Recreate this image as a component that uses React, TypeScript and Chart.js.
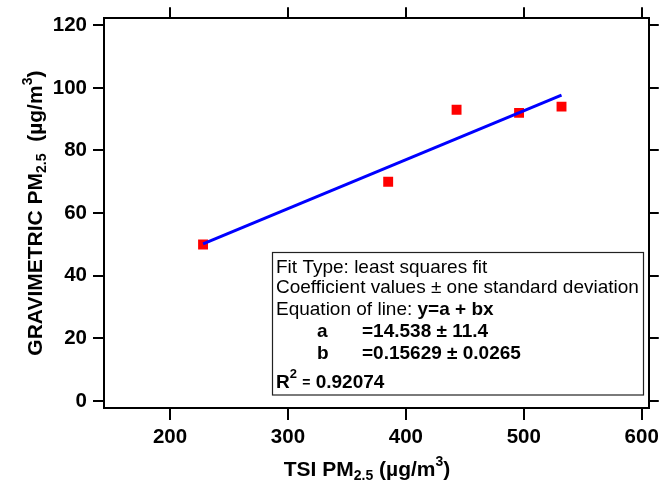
import React, { useEffect, useRef } from "react";
import { Chart, registerables } from "chart.js";

Chart.register(...registerables);

// ---- data ----
const tsiValues = [228, 385, 443, 496, 532];
const gravValues = [50, 70, 93, 92, 94];
const fitX = [228, 532];
const fitY = [50.2, 97.7];
const xTicks = [200, 300, 400, 500, 600];
const yTicks = [0, 20, 40, 60, 80, 100, 120];
const fitTypeText = "Fit Type: least squares fit";
const coefText = "Coefficient values \u00b1 one standard deviation";
const eqLabel = "Equation of line: ";
const eqText = "y=a + bx";
const coefNames = ["a", "b"];
const coefValues = ["=14.538 \u00b1 11.4", "=0.15629 \u00b1 0.0265"];
const r2Value = "0.92074";

const FAMILY = "'Liberation Sans', Arial, Helvetica, sans-serif";
const font = (size: number, bold: boolean) => `${bold ? "bold " : ""}${size}px ${FAMILY}`;

type Run = { text: string; size: number; bold: boolean; dy?: number };

function runsWidth(ctx: CanvasRenderingContext2D, runs: Run[]) {
  let w = 0;
  for (const r of runs) {
    ctx.font = font(r.size, r.bold);
    w += ctx.measureText(r.text).width;
  }
  return w;
}
function drawRuns(ctx: CanvasRenderingContext2D, x: number, y: number, runs: Run[]) {
  let cx = x;
  for (const r of runs) {
    ctx.font = font(r.size, r.bold);
    ctx.fillText(r.text, cx, y + (r.dy || 0));
    cx += ctx.measureText(r.text).width;
  }
}

const annotationsPlugin = {
  id: "annotationsPlugin",
  afterDraw(chart: any) {
    const ctx: CanvasRenderingContext2D = chart.ctx;
    const ca = chart.chartArea;
    ctx.save();
    ctx.fillStyle = "#000";
    ctx.textAlign = "left";
    ctx.textBaseline = "alphabetic";

    // x axis title
    const xRuns: Run[] = [
      { text: "TSI PM", size: 21, bold: true },
      { text: "2.5", size: 14, bold: true, dy: 4 },
      { text: " (\u00b5g/m", size: 21, bold: true },
      { text: "3", size: 14, bold: true, dy: -10 },
      { text: ")", size: 21, bold: true },
    ];
    const xw = runsWidth(ctx, xRuns);
    drawRuns(ctx, 367 - xw / 2, 476, xRuns);

    // y axis title
    const yRuns: Run[] = [
      { text: "GRAVIMETRIC PM", size: 21, bold: true },
      { text: "2.5", size: 14, bold: true, dy: 4 },
      { text: "  (\u00b5g/m", size: 21, bold: true },
      { text: "3", size: 14, bold: true, dy: -10 },
      { text: ")", size: 21, bold: true },
    ];
    const yw = runsWidth(ctx, yRuns);
    ctx.save();
    ctx.translate(42, (ca.top + ca.bottom) / 2);
    ctx.rotate(-Math.PI / 2);
    drawRuns(ctx, -yw / 2, 0, yRuns);
    ctx.restore();

    // fit legend box
    ctx.strokeStyle = "#222";
    ctx.lineWidth = 1.2;
    ctx.strokeRect(272.5, 252.5, 371, 142.5);
    const lx = 276;
    drawRuns(ctx, lx, 273, [{ text: fitTypeText, size: 19, bold: false }]);
    drawRuns(ctx, lx, 293, [{ text: coefText, size: 19, bold: false }]);
    drawRuns(ctx, lx, 315, [
      { text: eqLabel, size: 19, bold: false },
      { text: eqText, size: 19, bold: true },
    ]);
    const coefY = [337, 359];
    coefNames.forEach((n, i) => {
      drawRuns(ctx, 317, coefY[i], [{ text: n, size: 19, bold: true }]);
      drawRuns(ctx, 362, coefY[i], [{ text: coefValues[i], size: 19, bold: true }]);
    });
    drawRuns(ctx, lx, 388, [
      { text: "R", size: 19, bold: true },
      { text: "2", size: 13, bold: true, dy: -10 },
      { text: " ", size: 19, bold: true },
      { text: "=", size: 14, bold: true, dy: -1 },
      { text: " " + r2Value, size: 19, bold: true },
    ]);
    ctx.restore();
  },
};

const axisCommon = (tickLength: number) => ({
  grid: { drawOnChartArea: false, drawTicks: true, tickLength, color: "#000", lineWidth: 2 },
  border: { display: true, color: "#000", width: 2 },
});

export default function App() {
  const ref = useRef<HTMLCanvasElement | null>(null);
  useEffect(() => {
    document.body.style.margin = "0";
    if (!ref.current) return;
    const chart = new Chart(ref.current, {
      type: "scatter",
      data: {
        datasets: [
          {
            type: "line",
            data: fitX.map((x, i) => ({ x, y: fitY[i] })),
            borderColor: "#0000ff",
            borderWidth: 3,
            pointRadius: 0,
            fill: false,
            showLine: true,
          } as any,
          {
            data: tsiValues.map((x, i) => ({ x, y: gravValues[i] })),
            pointStyle: "rect",
            pointRadius: 7,
            backgroundColor: "#ff0000",
            borderColor: "#ff0000",
            borderWidth: 0,
            showLine: false,
          },
        ],
      },
      options: {
        animation: false,
        responsive: false,
        devicePixelRatio: 1,
        layout: { padding: 0 },
        plugins: { legend: { display: false }, tooltip: { enabled: false } },
        scales: {
          x: {
            type: "linear",
            position: "bottom",
            min: 144,
            max: 606,
            afterBuildTicks: (s: any) => {
              s.ticks = xTicks.map((v) => ({ value: v }));
            },
            afterFit: (s: any) => {
              s.height = 75;
            },
            ...axisCommon(12),
            ticks: {
              color: "#000",
              font: { family: FAMILY, size: 20.5, weight: "bold" },
              padding: 5,
              maxRotation: 0,
              autoSkip: false,
            },
          },
          x2: {
            type: "linear",
            position: "top",
            min: 144,
            max: 606,
            afterBuildTicks: (s: any) => {
              s.ticks = xTicks.map((v) => ({ value: v }));
            },
            afterFit: (s: any) => {
              s.height = 17;
            },
            ...axisCommon(11),
            ticks: { display: false },
          },
          y: {
            type: "linear",
            position: "left",
            min: -2.2,
            max: 122.2,
            afterBuildTicks: (s: any) => {
              s.ticks = yTicks.map((v) => ({ value: v }));
            },
            afterFit: (s: any) => {
              s.width = 104;
            },
            ...axisCommon(11),
            ticks: {
              color: "#000",
              font: { family: FAMILY, size: 20.5, weight: "bold" },
              padding: 6,
              autoSkip: false,
            },
          },
          y2: {
            type: "linear",
            position: "right",
            min: -2.2,
            max: 122.2,
            afterBuildTicks: (s: any) => {
              s.ticks = yTicks.map((v) => ({ value: v }));
            },
            afterFit: (s: any) => {
              s.width = 10;
            },
            ...axisCommon(10),
            ticks: { display: false },
          },
        },
      } as any,
      plugins: [annotationsPlugin],
    });
    return () => chart.destroy();
  }, []);
  return (
    <div style={{ position: "absolute", left: 0, top: 0, width: 664, height: 483 }}>
      <canvas ref={ref} width={664} height={483} />
    </div>
  );
}
